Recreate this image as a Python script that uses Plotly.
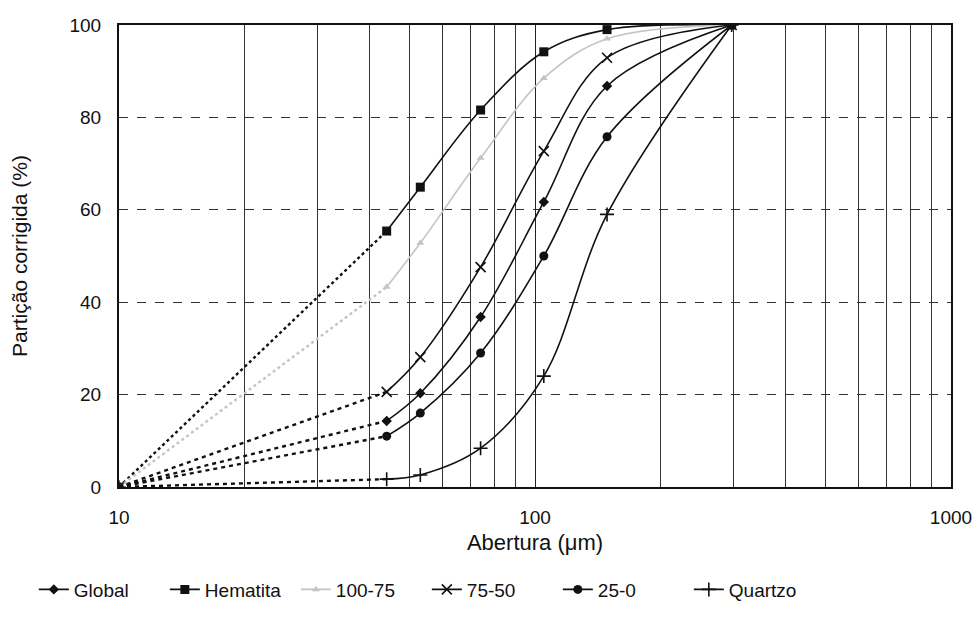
import plotly.graph_objects as go

# Abertura (µm)
aberturas = [10, 44, 53, 74, 105, 149, 297]

series_names = ["Global", "Hematita", "100-75", "75-50", "25-0", "Quartzo"]
global_y = [0, 14.3, 20.3, 36.8, 61.7, 86.8, 100]
hematita_y = [0, 55.4, 64.9, 81.6, 94.2, 99.0, 100]
f100_75_y = [0, 43.3, 52.8, 71.2, 88.5, 97.0, 100]
f75_50_y = [0, 20.6, 28.1, 47.6, 72.7, 92.9, 100]
f25_0_y = [0, 11.0, 16.0, 29.0, 50.0, 75.8, 100]
quartzo_y = [0, 1.7, 2.6, 8.4, 24.0, 59.0, 100]

x_ticks = [10, 100, 1000]
x_minor = [20, 30, 40, 50, 60, 70, 80, 90, 200, 300, 400, 500, 600, 700, 800, 900]
y_ticks = [0, 20, 40, 60, 80, 100]

all_y = [global_y, hematita_y, f100_75_y, f75_50_y, f25_0_y, quartzo_y]
styles = [
    dict(color="#111", symbol="diamond", size=8, lw=1.6, dash="4px,4px", mline=0),
    dict(color="#111", symbol="square", size=9, lw=1.6, dash="dot", mline=0),
    dict(color="#c4c4c4", symbol="triangle-up", size=7, lw=1.6, dash="dot", mline=0),
    dict(color="#111", symbol="x-thin", size=10, lw=1.6, dash="4px,4px", mline=1.6),
    dict(color="#111", symbol="circle", size=9, lw=1.6, dash="4px,4px", mline=0),
    dict(color="#111", symbol="cross-thin", size=10, lw=1.6, dash="4px,4px", mline=1.6),
]

fig = go.Figure()
for name, ys, st in zip(series_names, all_y, styles):
    # extrapolated part 10 -> first sieve
    fig.add_trace(go.Scatter(
        x=aberturas[:2], y=ys[:2], mode="lines+markers", showlegend=False,
        line=dict(color=st["color"], width=2.4, dash=st["dash"]),
        marker=dict(symbol=st["symbol"], size=[st["size"], 0], color=st["color"],
                    line=dict(color=st["color"], width=st["mline"])),
        hoverinfo="skip"))
    fig.add_trace(go.Scatter(
        x=aberturas[1:], y=ys[1:], mode="lines+markers", name=name,
        line=dict(color=st["color"], width=st["lw"], shape="spline"),
        marker=dict(symbol=st["symbol"], size=st["size"], color=st["color"],
                    line=dict(color=st["color"], width=st["mline"]))))

font = "Liberation Sans, Arial, sans-serif"
fig.update_layout(
    width=975, height=629,
    margin=dict(l=119, r=24, t=25, b=142, autoexpand=False),
    paper_bgcolor="white", plot_bgcolor="white",
    font=dict(family=font, size=19, color="#111"),
    showlegend=True,
    legend=dict(orientation="h", x=0.37, xanchor="center", y=-0.222, yanchor="middle",
                font=dict(size=19), tracegroupgap=0,
                entrywidth=86, entrywidthmode="pixels"),
)
fig.update_xaxes(
    type="log", range=[1, 3], tickmode="array", tickvals=x_ticks,
    ticktext=[str(v) for v in x_ticks], automargin=False,
    showgrid=True, gridcolor="#222", gridwidth=1,
    minor=dict(tickmode="array", tickvals=x_minor, showgrid=True,
               gridcolor="#333", gridwidth=1, ticks=""),
    showline=True, linecolor="#111", linewidth=2, mirror=True,
    ticks="outside", ticklen=12, tickcolor="rgba(0,0,0,0)",
    zeroline=False,
    title=dict(text="Abertura (\u03bcm)", font=dict(size=22), standoff=8),
)
fig.update_yaxes(
    range=[0, 100], tickmode="array", tickvals=y_ticks, automargin=False,
    showgrid=True, gridcolor="#333", gridwidth=1, griddash="dash",
    showline=True, linecolor="#111", linewidth=2, mirror=True,
    ticks="outside", ticklen=12, tickcolor="rgba(0,0,0,0)",
    zeroline=False,
    title=dict(text="Partição corrigida (%)", font=dict(size=21), standoff=36),
)

fig.write_html("out.html", post_script="document.body.style.margin='0';",
               config={"displayModeBar": False})
